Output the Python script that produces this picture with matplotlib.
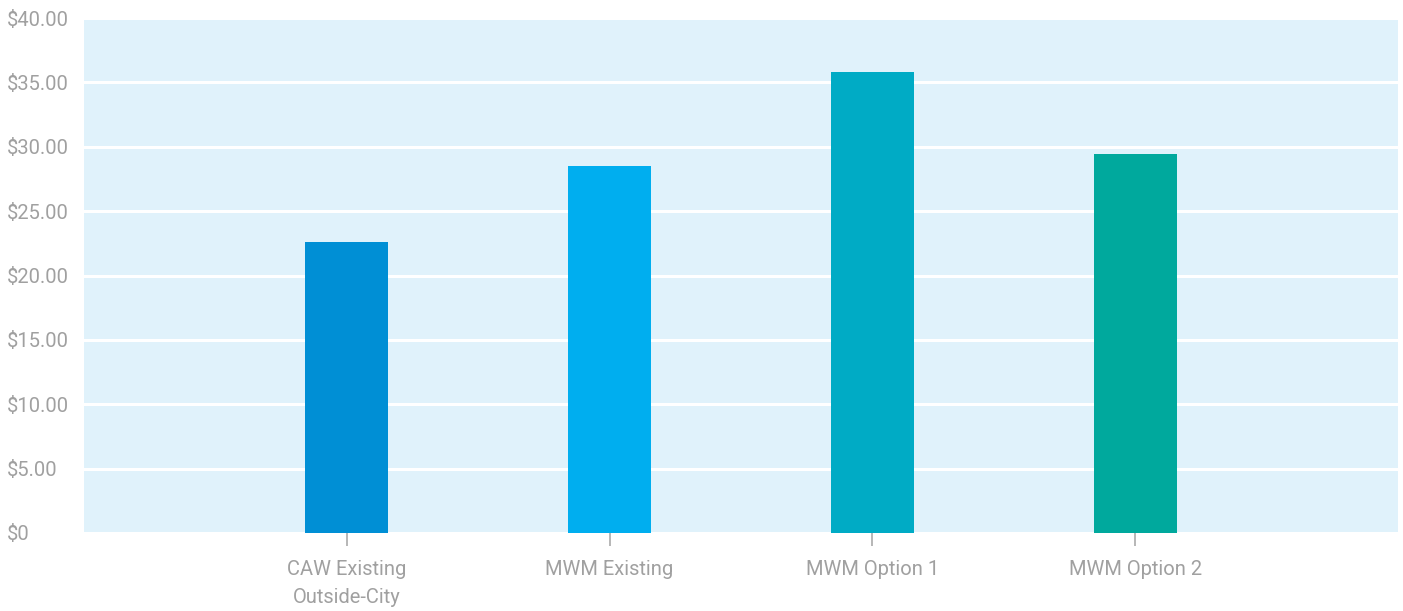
import matplotlib
matplotlib.use('Agg')
import matplotlib.pyplot as plt
from matplotlib.ticker import FuncFormatter

categories = ['CAW Existing\nOutside-City', 'MWM Existing', 'MWM Option 1', 'MWM Option 2']
values = [22.6, 28.5, 35.8, 29.4]
bar_colors = ['#008fd5', '#00aeef', '#00abc5', '#00a99d']

plt.rcParams['font.family'] = ['Roboto', 'DejaVu Sans']
text_gray = '#a0a0a0'

fig = plt.figure(figsize=(14.03, 6.11), dpi=100)
ax = fig.add_axes([84 / 1403, 78 / 611, 1314 / 1403, 515 / 611])
ax.set_facecolor('#e0f2fb')

x = list(range(1, len(categories) + 1))
ax.bar(x, values, width=0.315, color=bar_colors, zorder=3)

ax.set_xlim(0, len(categories) + 1)
ax.set_ylim(0, 40)
ax.set_yticks(range(0, 45, 5))
ax.yaxis.set_major_formatter(FuncFormatter(lambda v, p: '$0' if v == 0 else f'${v:.2f}'))
ax.set_xticks(x)
ax.set_xticklabels(categories, linespacing=1.6)

ax.grid(axis='y', color='white', linewidth=2.2, zorder=1)
for s in ax.spines.values():
    s.set_visible(False)

ax.tick_params(axis='y', length=0, pad=0, labelsize=14.5, labelcolor=text_gray)
ax.tick_params(axis='x', length=9.5, width=1.2, color='#aaaaaa', pad=10,
               labelsize=14.5, labelcolor=text_gray)
for lbl in ax.get_yticklabels():
    lbl.set_horizontalalignment('left')
    lbl.set_x(-84 / 1314 + 0.005)

fig.savefig('out.png', dpi=100)
